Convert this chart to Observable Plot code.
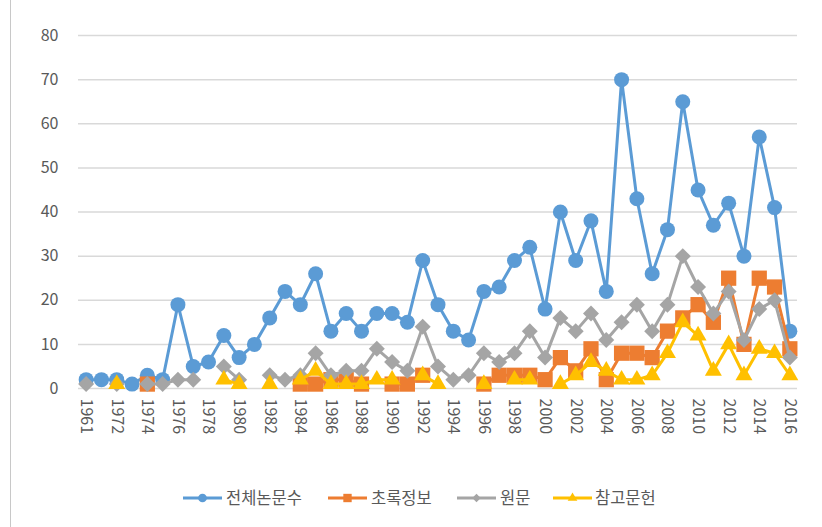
<!DOCTYPE html>
<html>
<head>
<meta charset="utf-8">
<script src="https://cdn.jsdelivr.net/npm/d3@7"></script>
<script src="https://cdn.jsdelivr.net/npm/@observablehq/plot@0.6"></script>
<style>
  html, body { margin: 0; padding: 0; background: #fff; }
  body { width: 822px; height: 527px; position: relative; overflow: hidden; font-family: "Noto Sans CJK KR", "Noto Sans", sans-serif; }
  #frame { position: absolute; left: 10px; top: 0; width: 1px; height: 527px; background: #c8c8c8; }
  #chart svg, #legend svg { display: block; }
</style>
</head>
<body>
<div id="frame"></div>
<div id="chart"></div>
<div id="legend"></div>
<script>
// Categories (the 2nd category is unlabeled in the reference)
const years = ["1961","1971"].concat(d3.range(1972, 2017).map(String));

// Series names
const seriesNames = ["전체논문수", "초록정보", "원문", "참고문헌"];

// 전체논문수
const total = [2,2,2,1,3,2,19,5,6,12,7,10,16,22,19,26,13,17,13,17,17,15,29,19,13,11,22,23,29,32,18,40,29,38,22,70,43,26,36,65,45,37,42,30,57,41,13];
// 초록정보
const abstractInfo = [null,null,null,null,1,null,null,null,null,null,null,null,null,null,1,1,2,2,1,null,1,1,3,null,null,null,1,3,3,3,2,7,4,9,2,8,8,7,13,16,19,15,25,10,25,23,9];
// 원문
const original = [1,null,1,null,1,1,2,2,null,5,2,null,3,2,3,8,3,4,4,9,6,4,14,5,2,3,8,6,8,13,7,16,13,17,11,15,19,13,19,30,23,17,22,11,18,20,7];
// 참고문헌
const references = [null,null,1,null,null,null,null,null,null,2,1,null,1,null,2,4,1,1,1,2,2,null,3,1,null,null,1,null,2,2,null,1,3,6,4,2,2,3,8,15,12,4,10,3,9,8,3];

// y ticks
const yTicks = [0,10,20,30,40,50,60,70,80];
// labeled x ticks (every other category)
const xTickLabels = years.filter((d, i) => i % 2 === 0);

const colors = ["#5B9BD5", "#ED7D31", "#A5A5A5", "#FFC000"];
const symbols = ["circle", "square", "diamond2", "triangle"];
const radii = [7.5, 8.6, 7.2, 6.3];
const values = [total, abstractInfo, original, references];

const seriesMarks = values.flatMap((vals, k) => [
  Plot.line(years, {x: years, y: vals, stroke: colors[k], strokeWidth: 3, curve: "linear"}),
  Plot.dot(years, {x: years, y: vals, fill: colors[k], stroke: "none", symbol: symbols[k], r: radii[k]})
]);

const chart = Plot.plot({
  width: 822,
  height: 460,
  marginLeft: 78,
  marginRight: 25,
  marginTop: 35,
  marginBottom: 72,
  style: {fontFamily: '"Noto Sans CJK KR", "Noto Sans", sans-serif', background: "transparent"},
  x: {type: "point", domain: years, padding: 0.5, round: false},
  y: {domain: [0, 80]},
  marks: [
    Plot.ruleY(yTicks, {stroke: "#d9d9d9", strokeWidth: 1.5}),
    Plot.axisY({ticks: yTicks, tickSize: 0, tickPadding: 20, fontSize: 16, color: "#595959", label: null}),
    Plot.axisX({ticks: xTickLabels, tickSize: 0, tickPadding: 10, tickRotate: 90, fontSize: 16, color: "#595959", label: null}),
    ...seriesMarks
  ]
});
document.getElementById("chart").appendChild(chart);

// Legend
const legendSvg = d3.select("#legend").append("svg")
  .attr("width", 822).attr("height", 67)
  .style("font-family", '"Noto Sans CJK KR", "Noto Sans", sans-serif');
const lineStarts = [183, 328, 457, 553];
const textStarts = [226, 371, 500, 595];
const legendY = 38;
const legendSym = [d3.symbolCircle, d3.symbolSquare, d3.symbolDiamond2, d3.symbolTriangle];
const legendSize = [60, 70, 45, 40];
seriesNames.forEach((name, k) => {
  const g = legendSvg.append("g");
  g.append("line")
    .attr("x1", lineStarts[k]).attr("x2", lineStarts[k] + 39)
    .attr("y1", legendY).attr("y2", legendY)
    .attr("stroke", colors[k]).attr("stroke-width", 3);
  g.append("path")
    .attr("d", d3.symbol(legendSym[k], legendSize[k])())
    .attr("transform", `translate(${lineStarts[k] + 19.5},${legendY})`)
    .attr("fill", colors[k]);
  g.append("text")
    .attr("x", textStarts[k]).attr("y", legendY)
    .attr("dy", "0.35em")
    .attr("font-size", 16.5)
    .attr("fill", "#595959")
    .text(name);
});
</script>
</body>
</html>
